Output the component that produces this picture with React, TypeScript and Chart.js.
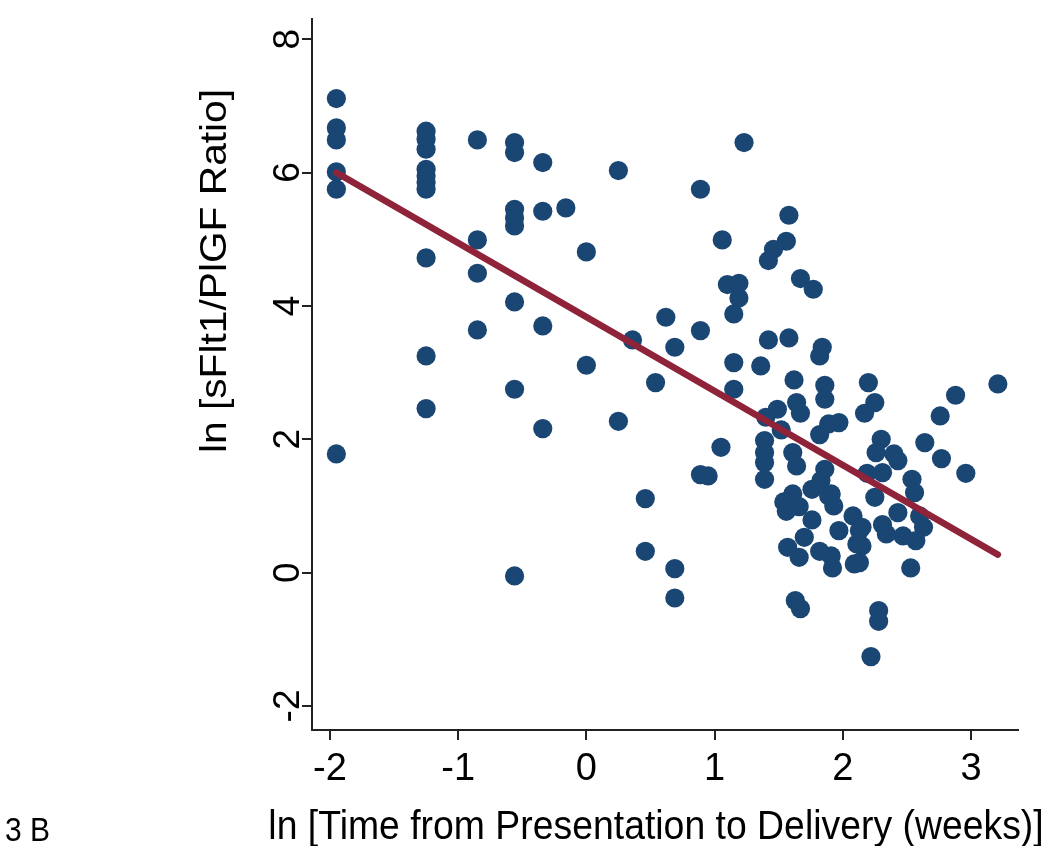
import React, { useEffect, useRef } from "react";
import { Chart, registerables } from "chart.js";

Chart.register(...registerables);

const FONT = '"Liberation Sans", Arial, Helvetica, sans-serif';

const xTickValues = [-2, -1, 0, 1, 2, 3];
const yTickValues = [-2, 0, 2, 4, 6, 8];
const xTitle = "ln [Time from Presentation to Delivery (weeks)]";
const yTitle = "ln [sFlt1/PlGF Ratio]";
const panelLabel = "3 B";

const lnTime = [
  -1.95, -1.95, -1.95, -1.95, -1.95, -1.95,
  -1.25, -1.25, -1.25, -1.25, -1.25, -1.25, -1.25, -1.25, -1.25, -1.25,
  -0.85, -0.85, -0.85, -0.85,
  -0.56, -0.56, -0.56, -0.56, -0.56, -0.56, -0.56, -0.56,
  -0.34, -0.34, -0.34, -0.34,
  -0.16, 0.0, 0.0, 0.25, 0.25, 0.36, 0.54, 0.62, 0.69, 0.46, 0.46, 0.69, 0.69,
  0.89, 0.89, 0.89, 0.95, 1.05, 1.06, 1.1, 1.19, 1.19, 1.15, 1.15, 1.15, 1.23,
  1.36, 1.42, 1.58, 1.42, 1.46, 1.56, 1.58, 1.67, 1.77, 1.84, 1.82, 1.62,
  1.86, 1.86, 2.2, 2.25, 2.17, 3.21, 2.88, 2.76, 2.64, 2.77, 2.96, 2.53,
  1.49, 1.4, 1.64, 1.67, 1.89, 1.97, 1.82, 1.52, 1.39, 1.39, 1.39, 1.39,
  1.61, 1.64, 1.86, 1.83, 1.76, 1.61, 1.54, 1.56, 1.66, 1.91, 1.93, 1.76,
  2.08, 1.97, 2.13, 2.11, 2.13, 1.57, 1.7, 1.66, 1.82, 1.91, 1.92, 1.63, 1.67,
  2.28, 2.28, 2.22, 2.3, 2.26, 2.4, 2.43, 2.19, 2.31, 2.54, 2.56, 2.25,
  2.43, 2.6, 2.63, 2.31, 2.34, 2.47, 2.57, 2.15, 2.15, 2.09, 1.89,
];

const lnRatio = [
  7.11, 6.67, 6.49, 6.01, 5.75, 1.78,
  6.62, 6.5, 6.35, 6.05, 5.95, 5.85, 5.75, 4.72, 3.25, 2.46,
  6.49, 4.99, 4.49, 3.64,
  6.45, 6.3, 5.45, 5.32, 5.2, 4.06, 2.75, -0.05,
  6.15, 5.42, 3.7, 2.16,
  5.47, 4.81, 3.11, 6.03, 2.27, 3.49, 2.85, 3.83, 3.38, 1.11, 0.32, 0.06, -0.38,
  5.75, 3.63, 1.47, 1.45, 1.88, 4.99, 4.32, 4.34, 4.12, 3.88, 3.15, 2.75, 6.45,
  3.1, 3.49, 3.52, 4.68, 4.85, 4.97, 5.36, 4.41, 4.25, 3.38, 3.25, 2.89,
  2.81, 2.6, 2.85, 2.55, 2.39, 2.83, 2.66, 2.35, 1.95, 1.71, 1.49, 0.07,
  2.45, 2.33, 2.55, 2.39, 2.23, 2.25, 2.07, 2.14, 1.98, 1.8, 1.65, 1.4,
  1.8, 1.6, 1.55, 1.38, 1.25, 1.18, 1.06, 0.92, 0.99, 1.18, 1.0, 0.79,
  0.85, 0.63, 0.63, 0.43, 0.15, 0.38, 0.53, 0.23, 0.32, 0.25, 0.07, -0.42, -0.54,
  -0.57, -0.73, -1.26, 2.0, 1.8, 1.78, 1.68, 1.49, 1.5, 1.4, 1.2, 1.13,
  0.9, 0.85, 0.68, 0.72, 0.58, 0.55, 0.48, 0.68, 0.4, 0.13, 1.15,
];

const fitX = [-1.95, 3.21];
const fitY = [6.0, 0.27];

const xMin = -2.14;
const xMax = 3.367;
const yMin = -2.36;
const yMax = 8.3;

const POINT_COLOR = "#1a4674";
const LINE_COLOR = "#8f2339";
const AXIS_COLOR = "#222222";

const textPlugin = {
  id: "stataText",
  afterDraw(chart: any) {
    const ctx = chart.ctx as CanvasRenderingContext2D;
    const area = chart.chartArea;
    ctx.save();
    ctx.fillStyle = "#000000";
    ctx.font = `37px ${FONT}`;
    ctx.textAlign = "center";
    ctx.textBaseline = "alphabetic";
    ctx.translate((area.left + area.right) / 2 - 9, 839);
    ctx.scale(1.01, 1.08);
    ctx.fillText(xTitle, 0, 0);
    ctx.restore();

    ctx.save();
    ctx.fillStyle = "#000000";
    ctx.font = `37px ${FONT}`;
    ctx.textAlign = "center";
    ctx.textBaseline = "alphabetic";
    ctx.translate(226, 271);
    ctx.rotate(-Math.PI / 2);
    ctx.scale(1.1, 1);
    ctx.fillText(yTitle, 0, 0);
    ctx.restore();

    ctx.save();
    ctx.fillStyle = "#000000";
    ctx.font = `30px ${FONT}`;
    ctx.textAlign = "left";
    ctx.textBaseline = "alphabetic";
    ctx.translate(5, 841);
    ctx.scale(1, 1.08);
    ctx.fillText(panelLabel, 0, 0);
    ctx.restore();
  },
};

export default function App() {
  const canvasRef = useRef<HTMLCanvasElement | null>(null);

  useEffect(() => {
    const canvas = canvasRef.current;
    if (!canvas) return;
    const points = lnTime.map((x, i) => ({ x, y: lnRatio[i] }));
    const fit = fitX.map((x, i) => ({ x, y: fitY[i] }));

    const chart = new Chart(canvas, {
      type: "scatter",
      data: {
        datasets: [
          {
            type: "line",
            label: "Fitted values",
            data: fit,
            borderColor: LINE_COLOR,
            backgroundColor: LINE_COLOR,
            borderWidth: 6.5,
            borderCapStyle: "round",
            pointRadius: 0,
            fill: false,
            order: 0,
          } as any,
          {
            type: "scatter",
            label: "ln ratio",
            data: points,
            backgroundColor: POINT_COLOR,
            borderColor: POINT_COLOR,
            borderWidth: 0,
            pointRadius: 9.6,
            pointHoverRadius: 9.6,
            order: 1,
          },
        ],
      },
      options: {
        responsive: false,
        animation: false,
        devicePixelRatio: 1,
        layout: { padding: { top: 18, right: 32, bottom: 0, left: 0 } },
        plugins: {
          legend: { display: false },
          tooltip: { enabled: false },
          title: { display: false },
        },
        scales: {
          x: {
            type: "linear",
            position: "bottom",
            min: xMin,
            max: xMax,
            afterBuildTicks: (s: any) => {
              s.ticks = xTickValues.map((v) => ({ value: v }));
            },
            afterFit: (s: any) => {
              s.height = 116;
            },
            ticks: {
              font: { family: FONT, size: 38 },
              color: "#000000",
              padding: 7,
              maxRotation: 0,
              minRotation: 0,
              callback: (v: any) => String(v),
            },
            grid: {
              display: true,
              drawOnChartArea: false,
              drawTicks: true,
              tickLength: 10,
              color: AXIS_COLOR,
              lineWidth: 2,
            },
            border: { display: true, color: AXIS_COLOR, width: 2 },
          },
          y: {
            type: "linear",
            position: "left",
            min: yMin,
            max: yMax,
            afterBuildTicks: (s: any) => {
              s.ticks = yTickValues.map((v) => ({ value: v }));
            },
            afterFit: (s: any) => {
              s.width = 312;
            },
            ticks: {
              font: { family: FONT, size: 37 },
              color: "#000000",
              padding: -3,
              minRotation: 90,
              maxRotation: 90,
              crossAlign: "center",
              callback: (v: any) => String(v),
            },
            grid: {
              display: true,
              drawOnChartArea: false,
              drawTicks: true,
              tickLength: 10,
              color: AXIS_COLOR,
              lineWidth: 2,
            },
            border: { display: true, color: AXIS_COLOR, width: 2 },
          },
        },
      },
      plugins: [textPlugin],
    });

    return () => {
      chart.destroy();
    };
  }, []);

  return (
    <div
      style={{
        position: "absolute",
        left: 0,
        top: 0,
        width: 1050,
        height: 846,
        background: "#ffffff",
      }}
    >
      <canvas
        ref={canvasRef}
        width={1050}
        height={846}
        style={{ display: "block", width: 1050, height: 846 }}
      />
    </div>
  );
}
